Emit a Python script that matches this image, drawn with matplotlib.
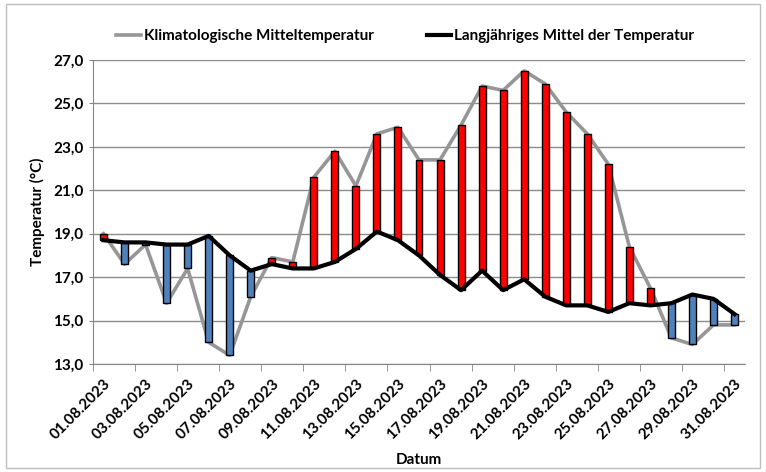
import numpy as np
import matplotlib
matplotlib.use('Agg')
import matplotlib.pyplot as plt
from matplotlib.patches import Rectangle

plt.rcParams['font.family'] = ['Lato', 'DejaVu Sans']

#data
days = ['%02d.08.2023' % d for d in range(1, 32)]
klima = [19.0, 17.6, 18.5, 15.8, 17.4, 14.0, 13.4, 16.1, 17.9, 17.7,
         21.6, 22.8, 21.2, 23.6, 23.9, 22.4, 22.4, 24.0, 25.8, 25.6,
         26.5, 25.9, 24.6, 23.6, 22.2, 18.4, 16.5, 14.2, 13.9, 14.8, 14.8]
mittel = [18.7, 18.6, 18.6, 18.5, 18.5, 18.9, 18.0, 17.3, 17.6, 17.4,
          17.4, 17.7, 18.3, 19.1, 18.7, 18.0, 17.1, 16.4, 17.3, 16.4,
          16.9, 16.1, 15.7, 15.7, 15.4, 15.8, 15.7, 15.8, 16.2, 16.0, 15.3]
yticks = [13, 15, 17, 19, 21, 23, 25, 27]

x = np.arange(1, len(days)+1)
k = np.array(klima)
m = np.array(mittel)

fig = plt.figure(figsize=(7.66, 4.72), dpi=100)
ax = fig.add_axes([0.1214, 0.2288, 0.8512, 0.6441])

# outer chart border
fig.patches.append(Rectangle((0.008, 0.008), 0.984, 0.984, transform=fig.transFigure,
                             fill=False, edgecolor='#bfbfbf', linewidth=1))

ax.plot(x, k, color='#969696', linewidth=2.6, zorder=2, label='Klimatologische Mitteltemperatur')
cols = ['#ff0000' if a > b else '#4f81bd' for a, b in zip(k, m)]
ax.bar(x, np.abs(k-m), bottom=np.minimum(k, m), width=0.33, color=cols,
       edgecolor='black', linewidth=1.0, zorder=3)
ax.plot(x, m, color='black', linewidth=3.0, zorder=4, label='Langjähriges Mittel der Temperatur')

ax.set_ylim(13, 27)
ax.set_yticks(yticks)
ax.set_yticklabels([('%.1f' % v).replace('.', ',') for v in yticks])
ax.set_xlim(0.5, len(days)+0.5)
ax.set_xticks(x[::2])
ax.set_xticklabels(days[::2], rotation=45, ha='right', rotation_mode='anchor')
ax.set_xticks(np.arange(0.5, len(days), 2), minor=True)
ax.tick_params(axis='x', which='major', length=0, pad=9)
ax.tick_params(axis='x', which='minor', length=5, color='#868686')
ax.tick_params(axis='y', length=3, color='#868686', pad=4)
for lab in ax.get_xticklabels() + ax.get_yticklabels():
    lab.set_fontweight('bold')
    lab.set_fontsize(11)

ax.grid(axis='y', color='#8c8c8c', linewidth=1)
ax.set_axisbelow(True)
for s in ['top', 'right']:
    ax.spines[s].set_visible(False)
for s in ['left', 'bottom']:
    ax.spines[s].set_color('#868686')

ax.set_ylabel('Temperatur (°C)', fontweight='bold', fontsize=11, labelpad=6)
ax.set_xlabel('Datum', fontweight='bold', fontsize=11, labelpad=8)

ax.legend(loc='lower center', bbox_to_anchor=(0.479, 1.01), ncol=2, frameon=False,
          handlelength=1.6, handletextpad=0.2, columnspacing=3.5,
          prop={'weight': 'bold', 'size': 11})

fig.savefig('out.png', dpi=100)
